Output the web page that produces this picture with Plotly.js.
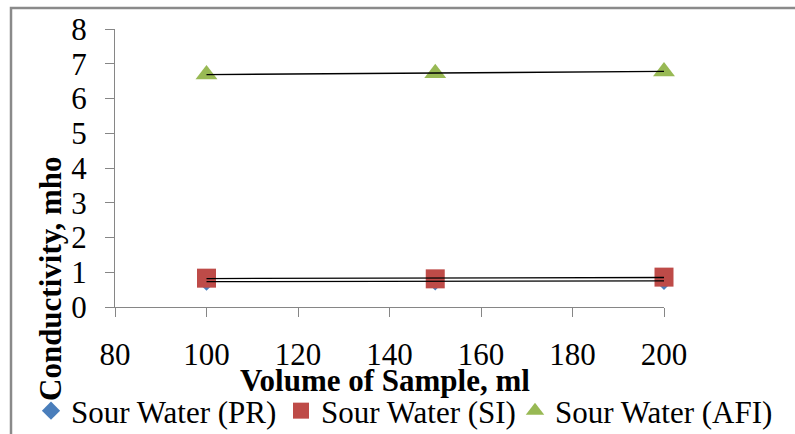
<!DOCTYPE html>
<html>
<head>
<meta charset="utf-8">
<script src="https://cdn.plot.ly/plotly-3.0.1.min.js"></script>
<style>
  html, body { margin: 0; padding: 0; background: #fff; }
  #chart { width: 795px; height: 434px; }
</style>
</head>
<body>
<div id="chart"></div>
<script>
// Data
const volume = [100, 150, 200];
const sourWaterPR = [0.73, 0.74, 0.75];
const sourWaterSI = [0.83, 0.81, 0.86];
const sourWaterAFI = [6.69, 6.73, 6.78];
const seriesNames = ['Sour Water (PR)', 'Sour Water (SI)', 'Sour Water (AFI)'];
const xTitle = 'Volume of Sample, ml';
const yTitle = 'Conductivity, mho';

const FONT = 'Liberation Serif, Times New Roman, serif';

// plot area geometry (pixels) used to convert to paper coordinates
const L = 115, R = 131, T = 29, B = 127, W = 795, H = 434;
const PW = W - L - R, PH = H - T - B;
const px2x = p => (p - L) / PW;
const px2y = p => (H - B - p) / PH;

function linearFit(xs, ys) {
  const n = xs.length;
  const mx = xs.reduce((a, b) => a + b, 0) / n;
  const my = ys.reduce((a, b) => a + b, 0) / n;
  let sxy = 0, sxx = 0;
  for (let i = 0; i < n; i++) { sxy += (xs[i] - mx) * (ys[i] - my); sxx += (xs[i] - mx) ** 2; }
  const b = sxy / sxx, a = my - b * mx;
  const xe = [Math.min(...xs), Math.max(...xs)];
  return { x: xe, y: xe.map(v => a + b * v) };
}

const markerTraces = [
  { y: sourWaterPR, name: seriesNames[0], legend: 'legend',
    marker: { symbol: 'diamond', color: '#4a7ebb', size: 14, line: { width: 0 } } },
  { y: sourWaterSI, name: seriesNames[1], legend: 'legend2',
    marker: { symbol: 'square', color: '#be4b48', size: 19, line: { width: 0 } } },
  { y: sourWaterAFI, name: seriesNames[2], legend: 'legend3',
    marker: { symbol: 'triangle-up', color: '#98b954', size: 19, line: { width: 0 } } }
].map(t => Object.assign({ x: volume, type: 'scatter', mode: 'markers', cliponaxis: false }, t));

const trendTraces = [sourWaterPR, sourWaterSI, sourWaterAFI].map(ys => {
  const f = linearFit(volume, ys);
  return { x: f.x, y: f.y, type: 'scatter', mode: 'lines', showlegend: false, cliponaxis: false,
           line: { color: '#000000', width: 1.3 } };
});

const axisCommon = {
  showline: true, linecolor: '#868686', linewidth: 1,
  ticks: 'outside', ticklen: 9, tickcolor: '#868686', tickwidth: 1,
  showgrid: false, zeroline: false,
  tickfont: { family: FONT, size: 31, color: '#000' }
};

function legendAt(textStartPx) {
  return {
    orientation: 'v', x: px2x(textStartPx - 37), xanchor: 'left', y: px2y(411), yanchor: 'middle',
    font: { family: FONT, size: 31, color: '#000' },
    itemwidth: 30, bgcolor: 'rgba(0,0,0,0)', borderwidth: 0
  };
}

const layout = {
  width: W, height: H,
  margin: { l: L, r: R, t: T, b: B, pad: 0, autoexpand: false },
  paper_bgcolor: '#ffffff', plot_bgcolor: '#ffffff',
  font: { family: FONT, color: '#000' },
  xaxis: Object.assign({}, axisCommon, { range: [80, 200], tick0: 80, dtick: 20, ticklabelstandoff: 11 }),
  yaxis: Object.assign({}, axisCommon, { range: [0, 8], tick0: 0, dtick: 1, ticklabelstandoff: 12 }),
  showlegend: true,
  legend: legendAt(68),
  legend2: legendAt(318),
  legend3: legendAt(552),
  annotations: [
    { text: '<b>' + xTitle + '</b>', xref: 'paper', yref: 'paper', x: px2x(385), y: px2y(380),
      xanchor: 'center', yanchor: 'middle', showarrow: false, font: { family: FONT, size: 31, color: '#000' } },
    { text: '<b>' + yTitle + '</b>', xref: 'paper', yref: 'paper', x: px2x(50), y: px2y(279),
      xanchor: 'center', yanchor: 'middle', textangle: -90, showarrow: false, font: { family: FONT, size: 31, color: '#000' } }
  ],
  shapes: [
    { type: 'rect', xref: 'paper', yref: 'paper', x0: px2x(11), x1: px2x(805), y0: px2y(445), y1: px2y(8),
      line: { color: '#8a8a8a', width: 2.5 }, fillcolor: 'rgba(0,0,0,0)', layer: 'below' }
  ]
};

Plotly.newPlot('chart', markerTraces.concat(trendTraces), layout, { displayModeBar: false, staticPlot: true });
</script>
</body>
</html>
